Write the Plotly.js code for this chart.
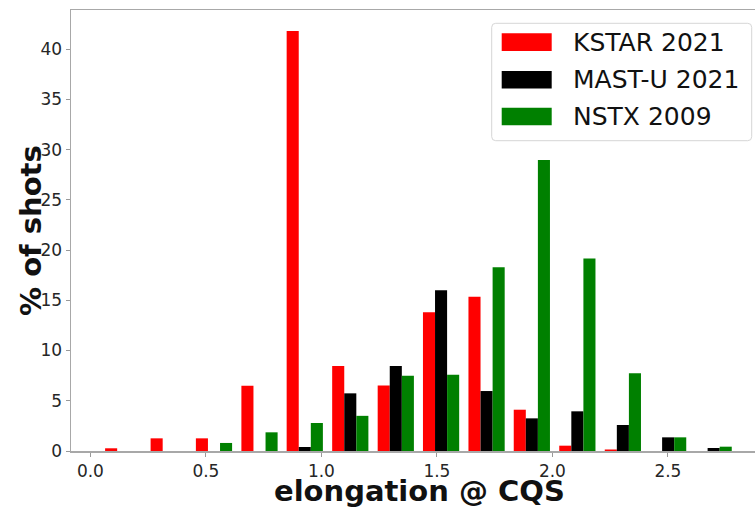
<!DOCTYPE html>
<html>
<head>
<meta charset="utf-8">
<script src="https://cdn.plot.ly/plotly-3.0.1.min.js"></script>
<style>
  html, body { margin: 0; padding: 0; background: #fff; overflow: hidden; }
  #chart { width: 755px; height: 507px; }
</style>
</head>
<body>
<div id="chart"></div>
<script>
// Histogram bin centres (elongation at CQS) and percentage of shots per bin
const binCenters = [0.142, 0.339, 0.535, 0.732, 0.928, 1.125, 1.322, 1.518, 1.715, 1.911, 2.108, 2.305, 2.501, 2.698];
const seriesNames = ['KSTAR 2021', 'MAST-U 2021', 'NSTX 2009'];
const seriesColors = ['#ff0000', '#000000', '#008000'];
const kstar2021 = [0.27, 1.26, 1.26, 6.5, 41.8, 8.46, 6.53, 13.8, 15.35, 4.11, 0.53, 0.15, 0, 0];
const mastu2021 = [0, 0, 0, 0, 0.4, 5.74, 8.46, 16.0, 5.97, 3.25, 3.95, 2.59, 1.36, 0.3];
const nstx2009 = [0, 0, 0.8, 1.86, 2.79, 3.5, 7.5, 7.6, 18.3, 28.96, 19.17, 7.73, 1.36, 0.43];
const xTickVals = [0, 0.5, 1, 1.5, 2, 2.5];
const yTickVals = [0, 5, 10, 15, 20, 25, 30, 35, 40];
const xTitle = 'elongation @ CQS';
const yTitle = '% of shots';

const seriesValues = [kstar2021, mastu2021, nstx2009];
const FONT = 'DejaVu Sans, Liberation Sans, sans-serif';

const W = 755, H = 507;
const M = { l: 71, r: 0, t: 10, b: 56 };
const plotW = W - M.l - M.r, plotH = H - M.t - M.b;
// pixel -> paper helpers for the legend block and axis titles
const px = x => (x - M.l) / plotW;
const py = y => (H - M.b - y) / plotH;

const traces = seriesNames.map((name, i) => ({
  type: 'bar',
  name: name,
  x: binCenters,
  y: seriesValues[i],
  marker: { color: seriesColors[i], line: { width: 0 } },
  showlegend: false,
  hoverinfo: 'x+y+name'
}));

// legend frame with rounded corners
const lx0 = 491.7, lx1 = 751.7, ly0 = 23.3, ly1 = 140.7, r = 4;
function roundedPath(x0, y0, x1, y1, rad) {
  const X = v => px(v), Y = v => py(v);
  return 'M ' + X(x0 + rad) + ' ' + Y(y0) +
    ' L ' + X(x1 - rad) + ' ' + Y(y0) +
    ' Q ' + X(x1) + ' ' + Y(y0) + ' ' + X(x1) + ' ' + Y(y0 + rad) +
    ' L ' + X(x1) + ' ' + Y(y1 - rad) +
    ' Q ' + X(x1) + ' ' + Y(y1) + ' ' + X(x1 - rad) + ' ' + Y(y1) +
    ' L ' + X(x0 + rad) + ' ' + Y(y1) +
    ' Q ' + X(x0) + ' ' + Y(y1) + ' ' + X(x0) + ' ' + Y(y1 - rad) +
    ' L ' + X(x0) + ' ' + Y(y0 + rad) +
    ' Q ' + X(x0) + ' ' + Y(y0) + ' ' + X(x0 + rad) + ' ' + Y(y0) + ' Z';
}

const shapes = [{
  type: 'path', xref: 'paper', yref: 'paper',
  path: roundedPath(lx0, ly0, lx1, ly1, r),
  fillcolor: 'rgba(255,255,255,0.8)',
  line: { color: '#d6d6d6', width: 1 }
}];
const annotations = [];
const rowTops = [33.3, 71, 107.7];
seriesNames.forEach((name, i) => {
  const top = rowTops[i], bot = top + 17.6;
  shapes.push({
    type: 'rect', xref: 'paper', yref: 'paper',
    x0: px(501.7), x1: px(551.7), y0: py(bot), y1: py(top),
    fillcolor: seriesColors[i], line: { width: 0 }
  });
  annotations.push({
    xref: 'paper', yref: 'paper', x: px(571), y: py((top + bot) / 2),
    xanchor: 'left', yanchor: 'middle', showarrow: false,
    text: name, font: { family: FONT, size: 25, color: '#111' }
  });
});

// axis titles
annotations.push({
  xref: 'paper', yref: 'paper', x: px(419), y: py(491),
  xanchor: 'center', yanchor: 'middle', showarrow: false, borderpad: 0,
  text: '<b>' + xTitle + '</b>', font: { family: FONT, size: 29, color: '#111' }
});
annotations.push({
  xref: 'paper', yref: 'paper', x: px(31), y: py(231),
  xanchor: 'center', yanchor: 'middle', showarrow: false, textangle: -90,
  text: '<b>' + yTitle + '</b>', font: { family: FONT, size: 29, color: '#111' }
});

const layout = {
  width: W, height: H,
  margin: M,
  paper_bgcolor: '#fff', plot_bgcolor: '#fff',
  barmode: 'group', bargap: 0.2, bargroupgap: 0,
  showlegend: false,
  font: { family: FONT, color: '#262626' },
  xaxis: {
    range: [-0.084, 2.877],
    tickvals: xTickVals, tickformat: '.1f',
    ticks: 'outside', ticklen: 4, tickwidth: 1, tickcolor: '#999',
    showline: true, linecolor: '#a8a8a8', linewidth: 1.5, mirror: true,
    showgrid: false, zeroline: false,
    tickfont: { family: FONT, size: 17, color: '#262626' }
  },
  yaxis: {
    range: [0, 43.9],
    tickvals: yTickVals,
    ticks: 'outside', ticklen: 4, tickwidth: 1, tickcolor: '#999',
    showline: true, linecolor: '#a8a8a8', linewidth: 1.5,
    showgrid: false, zeroline: false,
    tickfont: { family: FONT, size: 17, color: '#262626' }
  },
  shapes: shapes,
  annotations: annotations
};

Plotly.newPlot('chart', traces, layout, { displayModeBar: false, staticPlot: true });
</script>
</body>
</html>
